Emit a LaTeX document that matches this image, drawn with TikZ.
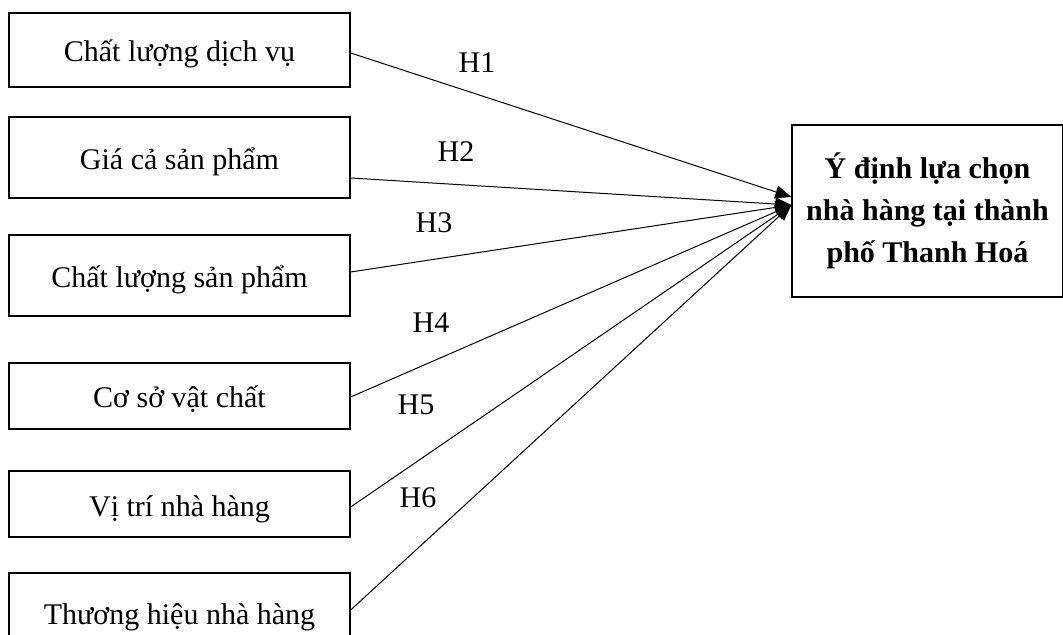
\documentclass[tikz,border=0pt]{standalone}
\usepackage{fontspec}
\setmainfont{Liberation Serif}
\usetikzlibrary{arrows.meta}
\begin{document}
\begin{tikzpicture}[x=0.5pt,y=-0.5pt]
\tikzstyle{every node}+=[font=\fontsize{15}{21}\selectfont]
\tikzstyle{factor}=[draw,line width=0.65pt,minimum width=170.5pt,inner sep=0pt,text height=14pt,text depth=2pt]
\tikzstyle{link}=[line width=0.5pt,-{Triangle[length=8pt,width=6.5pt]}]
\clip (0,0) rectangle (1063,635);
\node [factor,minimum height=37pt] (b1) at (179.5,50) {Chất lượng dịch vụ};
\node [factor,minimum height=40.5pt] (b2) at (179.5,157.5) {Giá cả sản phẩm};
\node [factor,minimum height=40.5pt] (b3) at (179.5,275.5) {Chất lượng sản phẩm};
\node [factor,minimum height=33pt] (b4) at (179.5,396) {Cơ sở vật chất};
\node [factor,minimum height=33pt] (b5) at (179.5,504) {Vị trí nhà hàng};
\node [factor,minimum height=39pt] (b6) at (179.5,612) {Thương hiệu nhà hàng};
\node [draw,line width=0.65pt,align=center,inner sep=0pt,minimum width=135.5pt,minimum height=86pt,font=\bfseries\fontsize{15}{21}\selectfont] (goal) at (927.5,211) {Ý định lựa chọn\\nhà hàng tại thành\\phố Thanh Hoá};
\node (h1) at (477,63) {H1};
\node (h2) at (456,152) {H2};
\node (h3) at (434,223) {H3};
\node (h4) at (431,323) {H4};
\node (h5) at (416,405) {H5};
\node (h6) at (418,498) {H6};
\draw [link] ([yshift=-1.5pt]b1.east) -- ([yshift=7pt]goal.west);
\draw [link] ([yshift=-10.25pt]b2.east) -- ([yshift=3pt]goal.west);
\draw [link] ([yshift=1.75pt]b3.east) -- ([yshift=3pt]goal.west);
\draw [link] ([yshift=-0.5pt]b4.east) -- ([yshift=3pt]goal.west);
\draw [link] ([yshift=-1.5pt]b5.east) -- ([yshift=3pt]goal.west);
\draw [link] ([yshift=1pt]b6.east) -- ([yshift=3pt]goal.west);
\end{tikzpicture}
\end{document}
